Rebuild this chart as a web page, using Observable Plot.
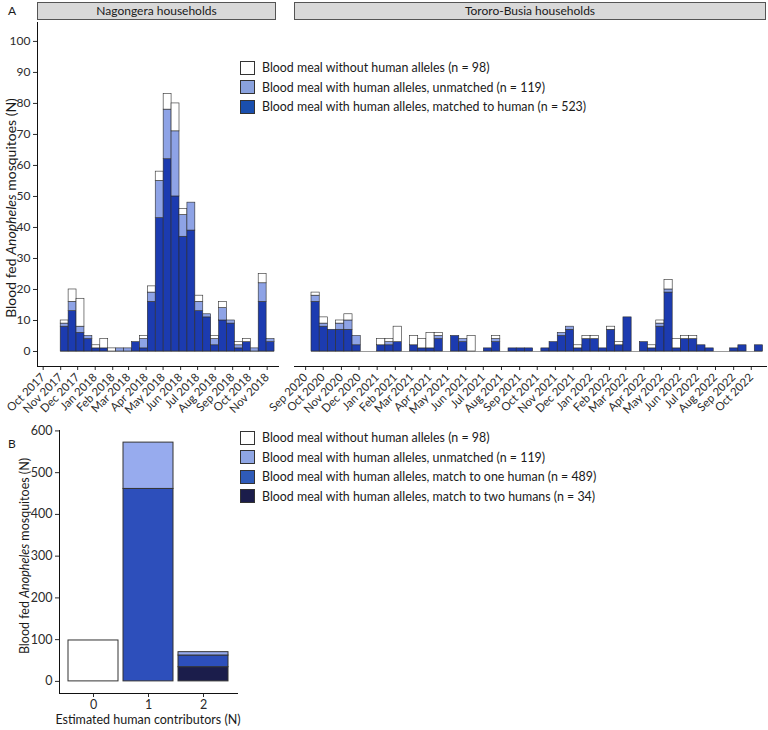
<!DOCTYPE html>
<html><head><meta charset="utf-8">
<script src="https://cdn.jsdelivr.net/npm/d3@7"></script>
<script src="https://cdn.jsdelivr.net/npm/@observablehq/plot@0.6"></script>
<style>
body{margin:0;background:#fff;font-family:Lato,sans-serif;}
#fig{position:relative;width:768px;height:730px;overflow:hidden;background:#fff;}
#fig > *{position:absolute;}
.strip{background:#d9d9d9;border:1px solid #555;box-sizing:border-box;font-size:12px;line-height:16px;color:#1a1a1a;text-align:center;}
.lg{font-size:12.4px;color:#1a1a1a;white-space:nowrap;display:flex;align-items:center;}
.sw{width:15px;height:14px;border:1px solid #333;box-sizing:border-box;margin-right:7px;flex:none;}
.tag{font-size:12px;color:#1a1a1a;}
.ttl{white-space:nowrap;color:#1a1a1a;transform:translate(-50%,-50%) rotate(-90deg);}
</style></head>
<body><div id="fig"></div>
<script>
// ---------- data ----------
// Panel A, Nagongera households (14-day bins starting 2017-11-01)
const nagStart = "2017-11-01";
const nagMatched   = [8,13,6,4,1,1,0,0,0,3,1,16,43,62,50,37,39,13,11,2,10,9,1,3,0,16,3];
const nagUnmatched = [1,3,2,1,0,0,0,1,1,0,3,3,12,16,21,7,9,3,1,2,4,1,1,0,1,6,1];
const nagNoHuman   = [1,4,9,0,1,3,1,0,0,0,1,2,3,5,9,2,0,2,0,1,2,0,1,1,0,3,0];
// Panel A, Tororo-Busia households (14-day bins starting 2020-09-11)
const torStart = "2020-09-11";
const torMatched   = [16,8,7,7,7,2,0,0,2,2,3,0,2,1,1,4,0,5,3,0,0,1,3,0,1,1,1,0,1,3,5,7,1,4,4,1,7,2,11,0,3,1,8,19,1,4,4,2,1,0,0,1,2,0,2];
const torUnmatched = [2,1,0,2,3,3,0,0,0,1,0,0,0,0,0,1,0,0,1,0,0,0,1,0,0,0,0,0,0,0,1,1,0,0,0,0,0,0,0,0,0,0,1,1,0,0,0,0,0,0,0,0,0,0,0];
const torNoHuman   = [1,2,0,1,2,0,0,0,2,1,5,0,3,3,5,1,0,0,0,5,0,0,1,0,0,0,0,0,0,0,0,0,1,1,1,0,1,1,0,0,0,1,1,3,3,1,1,0,0,0,0,0,0,0,0];
const binDays = 14;
const facetLabels = ["Nagongera households", "Tororo-Busia households"];
const nagTickLabels = ["Oct 2017","Nov 2017","Dec 2017","Jan 2018","Feb 2018","Mar 2018","Apr 2018","May 2018","Jun 2018","Jul 2018","Aug 2018","Sep 2018","Oct 2018","Nov 2018"];
const torTickLabels = ["Sep 2020","Oct 2020","Nov 2020","Dec 2020","Jan 2021","Feb 2021","Mar 2021","Apr 2021","May 2021","Jun 2021","Jul 2021","Aug 2021","Sep 2021","Oct 2021","Nov 2021","Dec 2021","Jan 2022","Feb 2022","Mar 2022","Apr 2022","May 2022","Jun 2022","Jul 2022","Aug 2022","Sep 2022","Oct 2022"];
const yTicksA = [0,10,20,30,40,50,60,70,80,90,100];
const legendA = ["Blood meal without human alleles (n = 98)","Blood meal with human alleles, unmatched (n = 119)","Blood meal with human alleles, matched to human (n = 523)"];

// Panel B
const contributors = ["0","1","2"];
const bNoHuman  = [98,0,0];
const bOneHuman = [0,461,28];
const bUnmatched= [0,111,8];
const bTwoHumans= [0,0,34];
const yTicksB = [0,100,200,300,400,500,600];
const legendB = ["Blood meal without human alleles (n = 98)","Blood meal with human alleles, unmatched (n = 119)","Blood meal with human alleles, match to one human (n = 489)","Blood meal with human alleles, match to two humans (n = 34)"];

// ---------- styles ----------
const colA = {no:"#ffffff", unm:"#8ea3e6", match:"#1c3bb0"};
const colALeg = ["#ffffff","#8aa2de","#1a4fae"];
const colB = {no:"#ffffff", unm:"#97abee", one:"#2d4fbb", two:"#1b1d4b"};
const colBLeg = ["#ffffff","#8fa6e4","#2f5bb8","#1b1d4b"];
const parseMonth = d3.utcParse("%b %Y");
const fig = document.getElementById("fig");

function segs(start, m, u, n){
  const t0 = new Date(start + "T00:00:00Z");
  const out = [];
  m.forEach((v, i) => {
    const x1 = d3.utcDay.offset(t0, binDays*i), x2 = d3.utcDay.offset(t0, binDays*(i+1));
    let y = 0;
    [[v, colA.match],[u[i], colA.unm],[n[i], colA.no]].forEach(([val, c]) => {
      if (val > 0) { out.push({x1, x2, y1:y, y2:y+val, fill:c}); y += val; }
    });
  });
  return out;
}
const yDomA = [-4.84, 106.1];

function panelA({width, ml, mr, domain, ticks, start, m, u, n, yAxis}){
  const data = segs(start, m, u, n);
  const s = new Date(start + "T00:00:00Z");
  const e = d3.utcDay.offset(s, binDays*m.length);
  return Plot.plot({
    width, height:430, marginLeft:ml, marginRight:mr, marginTop:22, marginBottom:64,
    style:{fontFamily:"Lato, sans-serif", fontSize:"11.5px", color:"#2b2b2b", background:"transparent", overflow:"visible"},
    x:{type:"utc", domain},
    y:{domain:yDomA, axis: yAxis ? undefined : null},
    color:{type:"identity"},
    marks:[
      yAxis ? Plot.axisY({ticks:yTicksA, tickSize:4, tickPadding:3, label:null, fontSize:12}) : null,
      Plot.axisX({ticks: ticks.map(parseMonth), tickFormat:d3.utcFormat("%b %Y"), tickRotate:-45, tickSize:4, tickPadding:5, label:null, fontSize:11.5}),
      Plot.ruleY([0], {x1:() => s, x2:() => e, stroke:"#9a9a9a", strokeWidth:1}),
      Plot.rect(data, {x1:"x1", x2:"x2", y1:"y1", y2:"y2", fill:"fill", stroke:"#2b2b2b", strokeWidth:0.6}),
      yAxis ? Plot.frame({anchor:"left", stroke:"#111"}) : null,
      Plot.frame({anchor:"bottom", stroke:"#111"})
    ]
  });
}

const pA1 = panelA({width:280, ml:37, mr:2, domain:[new Date("2017-09-21"), new Date("2018-11-21")], ticks:nagTickLabels, start:nagStart, m:nagMatched, u:nagUnmatched, n:nagNoHuman, yAxis:true});
pA1.style.left = "0px"; pA1.style.top = "0px";
fig.appendChild(pA1);
const pA2 = panelA({width:488, ml:14, mr:2, domain:[new Date("2020-08-13"), new Date("2022-10-27")], ticks:torTickLabels, start:torStart, m:torMatched, u:torUnmatched, n:torNoHuman, yAxis:false});
pA2.style.left = "280px"; pA2.style.top = "0px";
fig.appendChild(pA2);

// Panel B
const dataB = [];
contributors.forEach((c, i) => {
  let y = 0;
  [[bTwoHumans[i], colB.two],[bOneHuman[i], colB.one],[bUnmatched[i], colB.unm],[bNoHuman[i], colB.no]].forEach(([v, col]) => {
    if (v > 0) { dataB.push({x:c, y1:y, y2:y+v, fill:col}); y += v; }
  });
});
const pB = Plot.plot({
  width:240, height:310, marginLeft:59, marginRight:3, marginTop:10, marginBottom:37,
  style:{fontFamily:"Lato, sans-serif", fontSize:"12.5px", color:"#2b2b2b", background:"transparent", overflow:"visible"},
  x:{type:"band", domain:contributors, paddingInner:0.1, paddingOuter:0.15},
  y:{domain:[-29, 601]},
  color:{type:"identity"},
  marks:[
    Plot.axisY({ticks:yTicksB, tickSize:4, tickPadding:3, label:null}),
    Plot.axisX({tickSize:4, tickPadding:3, label:null}),
    Plot.barY(dataB, {x:"x", y1:"y1", y2:"y2", fill:"fill", stroke:"#333", strokeWidth:1}),
    Plot.frame({anchor:"left", stroke:"#111"}),
    Plot.frame({anchor:"bottom", stroke:"#111"})
  ]
});
pB.style.left = "0px"; pB.style.top = "420px";
fig.appendChild(pB);

// ---------- HTML annotations ----------
function add(html, css, cls){
  const d = document.createElement("div");
  d.className = cls || "";
  d.innerHTML = html;
  Object.assign(d.style, css);
  fig.appendChild(d);
  return d;
}
add("A", {left:"8px", top:"3px"}, "tag");
add("B", {left:"8px", top:"436px"}, "tag");
add(facetLabels[0], {left:"37px", top:"2px", width:"239px", height:"18px"}, "strip");
add(facetLabels[1], {left:"294px", top:"2px", width:"472px", height:"18px"}, "strip");
add("Blood fed <i>Anopheles</i> mosquitoes (N)", {left:"10px", top:"208px", fontSize:"14px"}, "ttl");
add("Blood fed <i>Anopheles</i> mosquitoes (N)", {left:"24px", top:"556px", fontSize:"12.5px"}, "ttl");
add("Estimated human contributors (N)", {left:"148px", top:"719px", fontSize:"12.5px", transform:"translate(-50%,-50%)", whiteSpace:"nowrap", color:"#1a1a1a"});
legendA.forEach((t, i) => add(`<span class="sw" style="background:${colALeg[i]}"></span>${t}`, {left:"240px", top:(60 + i*19.5) + "px"}, "lg"));
legendB.forEach((t, i) => add(`<span class="sw" style="background:${colBLeg[i]}"></span>${t}`, {left:"240px", top:(430 + i*19.6) + "px"}, "lg"));
</script></body></html>
